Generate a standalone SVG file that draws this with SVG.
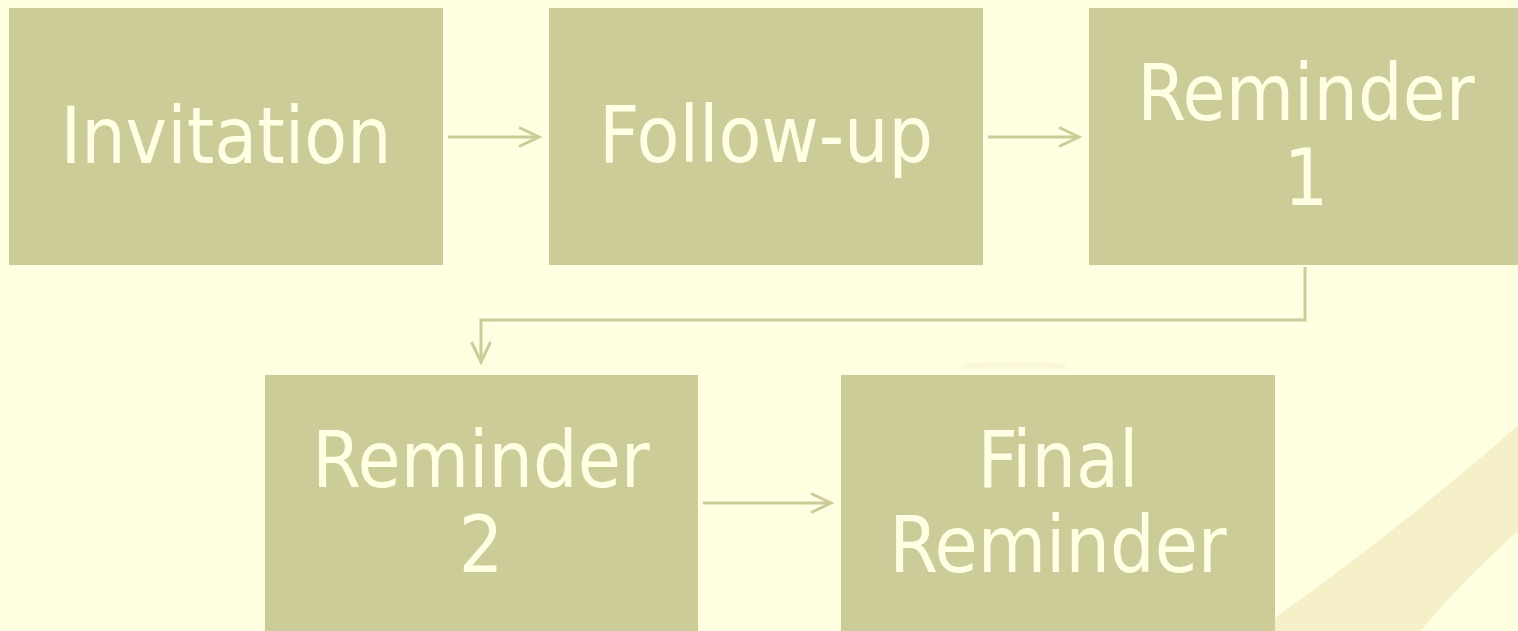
<svg xmlns="http://www.w3.org/2000/svg" width="1518" height="631" viewBox="0 0 1518 631">
  <style>
    .box { fill: #cccc99; }
    .label { fill: #ffffe4; font-family: "DejaVu Sans Condensed", "DejaVu Sans", Tahoma, sans-serif; font-stretch: condensed; font-size: 78px; text-anchor: middle; }
    .conn { fill: none; stroke: #cccc99; stroke-width: 3; stroke-linejoin: miter; }
  </style>
  <defs>
    <marker id="head" markerUnits="userSpaceOnUse" markerWidth="32" markerHeight="32" viewBox="-26 -16 32 32" refX="0" refY="0" orient="auto">
      <path d="M-20,-9.5 L0,0 L-20,9.5" fill="none" stroke="#cccc99" stroke-width="3"/>
    </marker>
    <filter id="soft" x="-20%" y="-20%" width="140%" height="140%">
      <feGaussianBlur stdDeviation="3"/>
    </filter>
  </defs>

  <!-- page background with the theme's swirl -->
  <rect x="0" y="0" width="1518" height="631" fill="#ffffe2"/>
  <path d="M1230,650 C1300,600 1400,530 1530,415 L1530,520 C1480,565 1440,605 1405,650 Z" fill="#f6f0c9"/>
  <path d="M965,368 Q1015,358 1065,368" fill="none" stroke="#efe4c0" stroke-width="4" opacity="0.7" filter="url(#soft)"/>

  <g id="connectors">
    <path class="conn" d="M448,137 H539" marker-end="url(#head)"/>
    <path class="conn" d="M988,137 H1079" marker-end="url(#head)"/>
    <path class="conn" d="M1305,267 V320 H481 V362" marker-end="url(#head)"/>
    <path class="conn" d="M703,503 H831" marker-end="url(#head)"/>
  </g>

  <g id="invitation">
    <rect class="box" x="9" y="8" width="434" height="257"/>
    <text class="label" x="226" y="163">Invitation</text>
  </g>

  <g id="follow-up">
    <rect class="box" x="549" y="8" width="434" height="257"/>
    <text class="label" x="766" y="162">Follow-up</text>
  </g>

  <g id="reminder-1">
    <rect class="box" x="1089" y="8" width="434" height="257"/>
    <text class="label" x="1306" y="120">Reminder</text>
    <text class="label" x="1306" y="205">1</text>
  </g>

  <g id="reminder-2">
    <rect class="box" x="265" y="375" width="433" height="260"/>
    <text class="label" x="481" y="487">Reminder</text>
    <text class="label" x="481" y="572">2</text>
  </g>

  <g id="final-reminder">
    <rect class="box" x="841" y="375" width="434" height="260"/>
    <text class="label" x="1058" y="487">Final</text>
    <text class="label" x="1058" y="572">Reminder</text>
  </g>
</svg>
